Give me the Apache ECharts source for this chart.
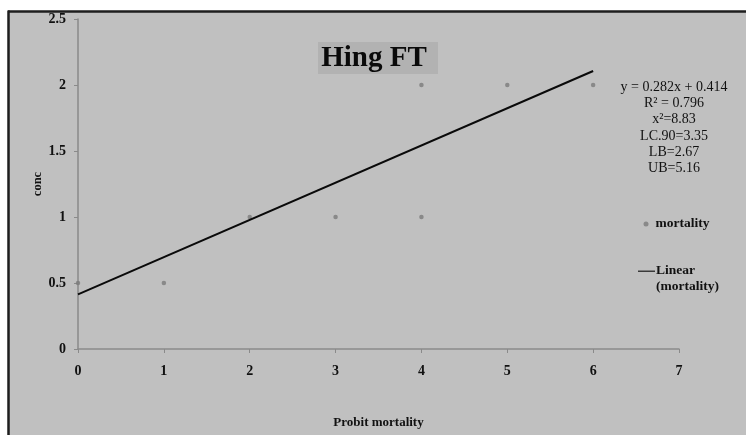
<!DOCTYPE html>
<html>
<head>
<meta charset="utf-8">
<script src="https://cdn.jsdelivr.net/npm/echarts@6/dist/echarts.min.js"></script>
<style>html,body{margin:0;padding:0;background:#fff;overflow:hidden}#c{width:746px;height:435px}</style>
</head>
<body>
<div id="c"></div>
<script>
// Data
const probitMortality = [0, 1, 2, 3, 4, 4, 5, 6];
const conc = [0.5, 0.5, 1, 1, 1, 2, 2, 2];
const trendSlope = 0.282;
const trendIntercept = 0.414;
const trendRange = [0, 6];
const statLines = ['y = 0.282x + 0.414', 'R\u00b2 = 0.796', 'x\u00b2=8.83', 'LC.90=3.35', 'LB=2.67', 'UB=5.16'];
const yTicks = [0, 0.5, 1, 1.5, 2, 2.5];
const xTicks = [0, 1, 2, 3, 4, 5, 6, 7];

const font = 'Liberation Serif';
const scatterData = probitMortality.map((x, i) => [x, conc[i]]);
const trendData = trendRange.map(x => [x, trendSlope * x + trendIntercept]);

const chart = echarts.init(document.getElementById('c'));
chart.setOption({
  backgroundColor: '#ffffff',
  animation: false,
  graphic: [
    { type: 'rect', z: -10, shape: { x: 8, y: 11, width: 800, height: 500 },
      style: { fill: '#c0c0c0' } },
    { type: 'line', z: -9, shape: { x1: 8, y1: 11.5, x2: 800, y2: 11.5 },
      style: { stroke: '#1e1e1e', lineWidth: 2.5 } },
    { type: 'line', z: -9, shape: { x1: 8.5, y1: 10.5, x2: 8.5, y2: 500 },
      style: { stroke: '#1e1e1e', lineWidth: 2.5 } },
    { type: 'rect', z: 1, shape: { x: 318, y: 42, width: 120, height: 32 },
      style: { fill: '#b2b2b2' } },
    { type: 'text', z: 2, x: 374, y: 59,
      style: { text: 'Hing FT', font: 'bold 29px "Liberation Serif"', fill: '#0a0a0a',
               textAlign: 'center', textVerticalAlign: 'middle' } },
    { type: 'text', z: 2, x: 674, y: 79,
      style: { text: statLines.join('\n'), font: '14px "Liberation Serif"', lineHeight: 16.3,
               fill: '#111', textAlign: 'center' } }
  ],
  grid: { left: 78, right: 67, top: 19, bottom: 86, containLabel: false, outerBoundsMode: 'none' },
  xAxis: {
    type: 'value', min: 0, max: 7, interval: 1,
    name: 'Probit mortality', nameLocation: 'middle', nameGap: 67, nameMoveOverlap: false,
    nameTextStyle: { fontFamily: font, fontWeight: 'bold', fontSize: 13, color: '#111' },
    axisLine: { lineStyle: { color: '#8a8a8a', width: 1.5 } },
    axisTick: { show: true, length: 4, lineStyle: { color: '#8a8a8a' } },
    axisLabel: { margin: 15, fontFamily: font, fontWeight: 'bold', fontSize: 14, color: '#111',
                 formatter: v => xTicks.includes(v) ? String(v) : '' },
    splitLine: { show: false }
  },
  yAxis: {
    type: 'value', min: 0, max: 2.5, interval: 0.5,
    name: 'conc', nameLocation: 'middle', nameGap: 34, nameRotate: 90, nameMoveOverlap: false,
    nameTextStyle: { fontFamily: font, fontWeight: 'bold', fontSize: 12.5, color: '#111' },
    axisLine: { show: true, lineStyle: { color: '#8a8a8a', width: 1.5 } },
    axisTick: { show: true, length: 4, lineStyle: { color: '#8a8a8a' } },
    axisLabel: { margin: 12, fontFamily: font, fontWeight: 'bold', fontSize: 14, color: '#111',
                 formatter: v => yTicks.includes(v) ? String(v) : '' },
    splitLine: { show: false }
  },
  legend: [
    { left: 638.5, top: 212, orient: 'vertical', itemWidth: 5, itemHeight: 5, itemGap: 10,
      data: [{ name: 'mortality', icon: 'circle' }],
      textStyle: { fontFamily: font, fontWeight: 'bold', fontSize: 13.5, color: '#111', padding: [0, 0, 0, 2] } },
    { left: 633, top: 258, orient: 'vertical', itemWidth: 17, itemHeight: 17, itemGap: 10,
      data: [{ name: 'Linear (mortality)', icon: 'path://M0,0H17V1.5H0Z M0,16.99H0.01V17H0Z' }],
      formatter: () => 'Linear\n(mortality)',
      textStyle: { fontFamily: font, fontWeight: 'bold', fontSize: 13.5, lineHeight: 16, color: '#111',
                   padding: [0, 0, 0, -4] } }
  ],
  series: [
    { name: 'mortality', type: 'scatter', data: scatterData, symbol: 'circle', symbolSize: 4.5,
      itemStyle: { color: '#7a7a7a' }, z: 3 },
    { name: 'Linear (mortality)', type: 'line', data: trendData, showSymbol: false, symbol: 'none',
      lineStyle: { color: '#0a0a0a', width: 2 }, itemStyle: { color: '#3a3a3a' }, z: 4 }
  ]
});
</script>
</body>
</html>
